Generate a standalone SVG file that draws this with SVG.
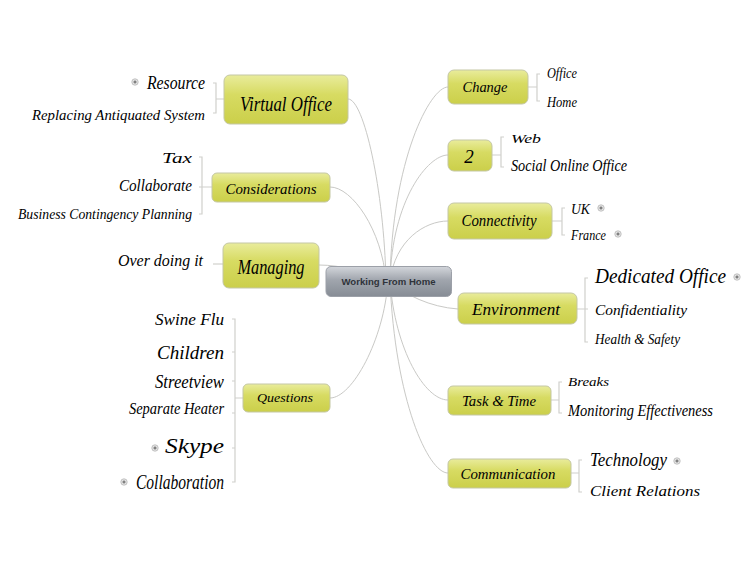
<svg xmlns="http://www.w3.org/2000/svg" width="750" height="563" viewBox="0 0 750 563">
<defs>
<linearGradient id="gY" x1="0" y1="0" x2="0" y2="1">
<stop offset="0" stop-color="#e9ec9c"/>
<stop offset="0.4" stop-color="#d7db62"/>
<stop offset="1" stop-color="#cbcf4a"/>
</linearGradient>
<linearGradient id="gC" x1="0" y1="0" x2="0" y2="1">
<stop offset="0" stop-color="#d3d6db"/>
<stop offset="0.45" stop-color="#a0a5ad"/>
<stop offset="1" stop-color="#868c95"/>
</linearGradient>
<g id="plus">
<circle r="3.2" fill="#e6e6e6" stroke="#b5b5b5" stroke-width="0.8"/>
<path d="M-1.6 0H1.6M0 -1.6V1.6" stroke="#555" stroke-width="0.9"/>
</g>
</defs>
<style>
.topic{fill:url(#gY);stroke:#c4c7a4;stroke-width:1}
.center{fill:url(#gC);stroke:#9ca0a8;stroke-width:1}
.hw{font-family:"Liberation Serif","DejaVu Serif",serif;font-style:italic;fill:#000}
.tl{text-anchor:middle}
.r{text-anchor:end}
.ct{font-family:"Liberation Sans",Arial,sans-serif;font-weight:bold;font-size:9.5px;fill:#2f333a;text-anchor:middle}
.ln{fill:none;stroke:#c9c9c6;stroke-width:1}
.br{fill:none;stroke:#d0d0cc;stroke-width:1.2}
</style>
<rect width="750" height="563" fill="#ffffff"/>
<g id="connectors">
<path class="ln" d="M348 99 C364 99 384 190 386 281"/>
<path class="ln" d="M330 187 C352 187 382 230 386 281"/>
<path class="ln" d="M319 265 C340 265 370 272 386 281"/>
<path class="ln" d="M330 398 C352 398 384 340 388 281"/>
<path class="ln" d="M448 87 C430 87 392 160 390 281"/>
<path class="ln" d="M448 155 C428 155 392 200 390 281"/>
<path class="ln" d="M448 221 C425 221 395 240 390 281"/>
<path class="ln" d="M458 309 C430 307 405 295 390 281"/>
<path class="ln" d="M448 400 C425 400 395 350 390 281"/>
<path class="ln" d="M448 473 C428 473 395 400 390 281"/>
<path class="br" d="M224 99H216M213 83H216V113H213"/>
<path class="br" d="M212 187H202M199 157H202V214H199M199 187H202"/>
<path class="br" d="M223 264H213"/>
<path class="br" d="M243 398H235M232 319H235V482H232M232 352H235M232 381H235M232 413H235M232 448H235"/>
<path class="br" d="M528 87H537M540 74H537V101H540"/>
<path class="br" d="M492 155H501M504 137H501V167H504"/>
<path class="br" d="M552 221H562M565 208H562V235H565"/>
<path class="br" d="M577 309H585M588 278H585V342H588M585 309H588"/>
<path class="br" d="M551 400H559M562 382H559V413H562"/>
<path class="br" d="M571 473H579M582 460H579V492H582"/>
</g>
<g id="node-center">
<rect class="center" x="326" y="266.5" width="125.5" height="30" rx="5"/>
<text class="ct" x="388.5" y="284.5" textLength="94" lengthAdjust="spacingAndGlyphs">Working From Home</text>
</g>
<g id="node-virtual-office">
<rect class="topic" x="224" y="75" width="124" height="49" rx="6"/>
<text class="hw tl" x="286" y="111" font-size="22" textLength="92" lengthAdjust="spacingAndGlyphs">Virtual Office</text>
</g>
<g id="node-considerations">
<rect class="topic" x="212" y="173" width="118" height="29" rx="5"/>
<text class="hw tl" x="271" y="194" font-size="14" textLength="91" lengthAdjust="spacingAndGlyphs">Considerations</text>
</g>
<g id="node-managing">
<rect class="topic" x="223" y="243" width="96" height="45" rx="6"/>
<text class="hw tl" x="271" y="274" font-size="20" textLength="67" lengthAdjust="spacingAndGlyphs">Managing</text>
</g>
<g id="node-questions">
<rect class="topic" x="243" y="384" width="87" height="28" rx="5"/>
<text class="hw tl" x="285" y="402" font-size="13" textLength="56" lengthAdjust="spacingAndGlyphs">Questions</text>
</g>
<g id="node-change">
<rect class="topic" x="448" y="70" width="80" height="34" rx="6"/>
<text class="hw tl" x="485" y="92" font-size="15" textLength="45" lengthAdjust="spacingAndGlyphs">Change</text>
</g>
<g id="node-2">
<rect class="topic" x="448" y="140" width="44" height="31" rx="6"/>
<text class="hw tl" x="469" y="163" font-size="19">2</text>
</g>
<g id="node-connectivity">
<rect class="topic" x="448" y="203" width="104" height="36" rx="6"/>
<text class="hw tl" x="499" y="226" font-size="16" textLength="75" lengthAdjust="spacingAndGlyphs">Connectivity</text>
</g>
<g id="node-environment">
<rect class="topic" x="458" y="293" width="119" height="31" rx="6"/>
<text class="hw tl" x="516" y="315" font-size="16" textLength="88" lengthAdjust="spacingAndGlyphs">Environment</text>
</g>
<g id="node-task-time">
<rect class="topic" x="448" y="386" width="103" height="29" rx="5"/>
<text class="hw tl" x="499" y="406" font-size="14" textLength="74" lengthAdjust="spacingAndGlyphs">Task &amp; Time</text>
</g>
<g id="node-communication">
<rect class="topic" x="448" y="459" width="123" height="29" rx="5"/>
<text class="hw tl" x="508" y="479" font-size="14" textLength="95" lengthAdjust="spacingAndGlyphs">Communication</text>
</g>
<g id="sub-resource">
<use href="#plus" x="135" y="82"/>
<text class="hw r" x="205" y="89" font-size="18" textLength="58" lengthAdjust="spacingAndGlyphs">Resource</text>
</g>
<g id="sub-replacing"><text class="hw r" x="205" y="120" font-size="15" textLength="173" lengthAdjust="spacingAndGlyphs">Replacing Antiquated System</text></g>
<g id="sub-tax"><text class="hw r" x="192" y="163" font-size="15" textLength="30" lengthAdjust="spacingAndGlyphs">Tax</text></g>
<g id="sub-collaborate"><text class="hw r" x="192" y="191" font-size="16" textLength="73" lengthAdjust="spacingAndGlyphs">Collaborate</text></g>
<g id="sub-bcp"><text class="hw r" x="192" y="219" font-size="14" textLength="174" lengthAdjust="spacingAndGlyphs">Business Contingency Planning</text></g>
<g id="sub-overdoing"><text class="hw r" x="203" y="266" font-size="16" textLength="85" lengthAdjust="spacingAndGlyphs">Over doing it</text></g>
<g id="sub-swine"><text class="hw r" x="224" y="325" font-size="17" textLength="69" lengthAdjust="spacingAndGlyphs">Swine Flu</text></g>
<g id="sub-children"><text class="hw r" x="224" y="359" font-size="18" textLength="67" lengthAdjust="spacingAndGlyphs">Children</text></g>
<g id="sub-streetview"><text class="hw r" x="224" y="388" font-size="18" textLength="69" lengthAdjust="spacingAndGlyphs">Streetview</text></g>
<g id="sub-heater"><text class="hw r" x="224" y="414" font-size="16" textLength="95" lengthAdjust="spacingAndGlyphs">Separate Heater</text></g>
<g id="sub-skype">
<use href="#plus" x="155" y="448"/>
<text class="hw r" x="224" y="453" font-size="21" textLength="59" lengthAdjust="spacingAndGlyphs">Skype</text>
</g>
<g id="sub-collaboration">
<use href="#plus" x="124" y="482"/>
<text class="hw r" x="224" y="489" font-size="20" textLength="88" lengthAdjust="spacingAndGlyphs">Collaboration</text>
</g>
<g id="sub-office"><text class="hw" x="547" y="78" font-size="14" textLength="30" lengthAdjust="spacingAndGlyphs">Office</text></g>
<g id="sub-home"><text class="hw" x="547" y="107" font-size="14" textLength="30" lengthAdjust="spacingAndGlyphs">Home</text></g>
<g id="sub-web"><text class="hw" x="511" y="143" font-size="13" textLength="30" lengthAdjust="spacingAndGlyphs">Web</text></g>
<g id="sub-social"><text class="hw" x="511" y="171" font-size="17" textLength="116" lengthAdjust="spacingAndGlyphs">Social Online Office</text></g>
<g id="sub-uk">
<text class="hw" x="571" y="214" font-size="14" textLength="19" lengthAdjust="spacingAndGlyphs">UK</text>
<use href="#plus" x="601" y="208"/>
</g>
<g id="sub-france">
<text class="hw" x="571" y="240" font-size="14" textLength="35" lengthAdjust="spacingAndGlyphs">France</text>
<use href="#plus" x="618" y="234"/>
</g>
<g id="sub-dedicated">
<text class="hw" x="595" y="283" font-size="20" textLength="131" lengthAdjust="spacingAndGlyphs">Dedicated Office</text>
<use href="#plus" x="737" y="277"/>
</g>
<g id="sub-confidentiality"><text class="hw" x="595" y="315" font-size="15" textLength="92" lengthAdjust="spacingAndGlyphs">Confidentiality</text></g>
<g id="sub-health"><text class="hw" x="595" y="344" font-size="14" textLength="85" lengthAdjust="spacingAndGlyphs">Health &amp; Safety</text></g>
<g id="sub-breaks"><text class="hw" x="568" y="386" font-size="13" textLength="41" lengthAdjust="spacingAndGlyphs">Breaks</text></g>
<g id="sub-monitoring"><text class="hw" x="568" y="416" font-size="17" textLength="145" lengthAdjust="spacingAndGlyphs">Monitoring Effectiveness</text></g>
<g id="sub-technology">
<text class="hw" x="590" y="466" font-size="18" textLength="77" lengthAdjust="spacingAndGlyphs">Technology</text>
<use href="#plus" x="677" y="461"/>
</g>
<g id="sub-client"><text class="hw" x="590" y="496" font-size="15" textLength="110" lengthAdjust="spacingAndGlyphs">Client Relations</text></g>
</svg>
